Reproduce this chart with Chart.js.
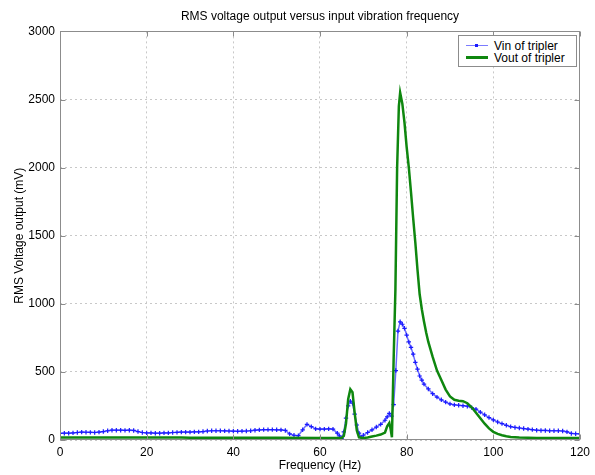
<!DOCTYPE html>
<html><head><meta charset="utf-8">
<script src="https://cdn.jsdelivr.net/npm/chart.js@4.4.1/dist/chart.umd.min.js"></script>
<style>
html,body{margin:0;padding:0;background:#fff;}
#wrap{position:relative;width:595px;height:475px;background:#fff;}
#legend{position:absolute;left:458px;top:35px;width:117px;height:30px;border:1px solid #8c8c8c;background:#fff;font:12px "Liberation Sans",Arial,sans-serif;color:#000;}
.row{position:absolute;left:0;width:116px;height:12px;line-height:12px;}
.txt{position:absolute;left:35px;top:0;white-space:nowrap;}
.ln{position:absolute;left:7px;width:22px;}
.blue{top:5px;height:1px;background:rgba(90,90,255,0.8);}
.dot{position:absolute;left:16px;top:4px;width:3px;height:3px;background:#1a1aff;}
.green{top:5px;height:3px;background:#0f870f;}
</style></head>
<body>
<div id="wrap">
<canvas id="c" width="595" height="475"></canvas>
<div id="legend">
 <div class="row" style="top:4px"><div class="ln blue"></div><div class="dot"></div><div class="txt">Vin of tripler</div></div>
 <div class="row" style="top:16px"><div class="ln green" style="top:4px"></div><div class="txt">Vout of tripler</div></div>
</div>
</div>
<script>
const vinFreq = [0,1,2,3,4,5,6,7,8,9,10,11,12,13,14,15,16,17,18,19,20,21,22,23,24,25,26,27,28,29,30,31,32,33,34,35,36,37,38,39,40,41,42,43,44,45,46,47,48,49,50,51,52,53,54,55,56,57,58,59,60,61,62,63,64,64.5,65,65.5,66,66.5,67,67.5,68,68.5,69,69.5,70,71,72,73,74,75,75.5,76,76.5,77,77.5,78,78.5,79,79.5,80,80.5,81,81.5,82,82.5,83,83.5,84,85,86,87,88,89,90,91,92,93,94,95,96,97,98,99,100,101,102,103,104,105,106,107,108,109,110,111,112,113,114,115,116,117,118,119,120];
const vinMv = [49,50,50,52,55,58,57,56,55,58,62,68,72,72,72,71,72,70,62,55,52,52,50,50,52,52,55,56,58,58,58,60,60,62,66,68,68,68,67,66,65,64,65,66,68,72,74,76,76,76,75,74,70,45,35,32,75,115,98,82,80,80,82,80,50,30,10,60,160,250,285,270,190,110,50,20,35,55,75,95,115,145,170,195,175,260,510,800,868,850,820,770,720,680,630,570,520,470,440,410,375,340,315,295,278,265,258,255,252,248,238,226,205,185,165,148,132,120,108,98,92,88,84,80,76,72,70,70,68,68,68,66,60,48,46,45];
const voutFreq = [0,5,10,20,28,30,40,50,60,64,65,65.5,66,66.5,67,67.5,68,68.5,69,70,71,72,73,74,75,75.5,76,76.3,76.6,77,77.4,77.8,78.2,78.5,79,79.5,80,80.5,81,81.5,82,82.5,83,83.5,84,84.5,85,86,87,88,89,90,91,92,93,94,95,96,97,98,99,100,101,102,103,104,106,110,115,120];
const voutMv = [18,18,18,18,18,16,16,16,15,15,15,30,120,300,372,350,200,70,20,15,18,25,32,40,55,100,125,80,20,600,1100,2000,2450,2550,2470,2330,2150,2000,1820,1630,1450,1250,1070,960,870,790,720,610,510,440,370,320,295,288,285,270,240,200,160,120,85,60,45,35,28,22,18,15,14,14];
const xTickValues = [0,20,40,60,80,100,120];
const yTickValues = [0,500,1000,1500,2000,2500,3000];

const FONT = '"Liberation Sans", Arial, sans-serif';
Chart.defaults.font.family = FONT;

const framePlugin = {
  id: 'frame',
  afterLayout(chart) {
    const ca = chart.chartArea;
    if (chart.titleBlock) { chart.titleBlock.left = ca.left; chart.titleBlock.right = ca.right; }
  },
  afterDatasetsDraw(chart) {
    const {ctx, chartArea: ca, scales} = chart;
    ctx.save();
    ctx.strokeStyle = '#8c8c8c';
    ctx.lineWidth = 1;
    const L = Math.round(ca.left)+0.5, R = Math.round(ca.right)-0.5, T = Math.round(ca.top)+0.5, B = Math.round(ca.bottom)-0.5;
    ctx.strokeRect(L, T, R-L, B-T);
    ctx.beginPath();
    scales.x.ticks.forEach(t => {
      const px = Math.round(scales.x.getPixelForValue(t.value))+0.5;
      ctx.moveTo(px, B); ctx.lineTo(px, B-5);
      ctx.moveTo(px, T); ctx.lineTo(px, T+5);
    });
    scales.y.ticks.forEach(t => {
      const py = Math.round(scales.y.getPixelForValue(t.value))+0.5;
      ctx.moveTo(L, py); ctx.lineTo(L+5, py);
      ctx.moveTo(R, py); ctx.lineTo(R-5, py);
    });
    ctx.stroke();
    ctx.restore();
  }
};

new Chart(document.getElementById('c'), {
  type: 'line',
  data: {
    datasets: [
      {
        label: 'Vin of tripler',
        data: vinFreq.map((f,i)=>({x:f, y:vinMv[i]})),
        borderColor: 'rgba(70,70,255,0.8)',
        borderWidth: 1.5,
        pointStyle: 'cross',
        pointRadius: 2.2,
        pointBorderColor: '#1a1aff',
        pointBorderWidth: 1.2,
        pointBackgroundColor: '#1a1aff',
        tension: 0,
        order: 1
      },
      {
        label: 'Vout of tripler',
        data: voutFreq.map((f,i)=>({x:f, y:voutMv[i]})),
        borderColor: '#0f870f',
        borderWidth: 2.5,
        pointRadius: 0,
        tension: 0,
        order: 0
      }
    ]
  },
  options: {
    responsive: false,
    animation: false,
    layout: { padding: { left: 0, right: 14, top: 0, bottom: 0 } },
    plugins: {
      legend: { display: false },
      tooltip: { enabled: false },
      title: {
        display: true,
        text: 'RMS voltage output versus input vibration frequency',
        color: '#000',
        font: { size: 12, weight: 'normal', family: FONT },
        padding: { top: 9, bottom: 8 }
      }
    },
    scales: {
      x: {
        type: 'linear', min: 0, max: 120,
        afterBuildTicks: s => { s.ticks = xTickValues.map(v => ({value: v})); },
        afterFit: s => { s.height = 35; },
        grid: { color: '#c8c8c8', lineWidth: 1, drawTicks: false },
        border: { display: false, dash: [2, 3] },
        ticks: { color: '#000', padding: 5, maxRotation: 0, font: { size: 12 }, callback: v => String(v) },
        title: { display: true, text: 'Frequency (Hz)', color: '#000', font: { size: 12 }, padding: { top: 0, bottom: 2 } }
      },
      y: {
        type: 'linear', min: 0, max: 3000,
        afterBuildTicks: s => { s.ticks = yTickValues.map(v => ({value: v})); },
        afterFit: s => { s.width = 60; },
        grid: { color: '#c8c8c8', lineWidth: 1, drawTicks: false },
        border: { display: false, dash: [2, 3] },
        ticks: { color: '#000', padding: 5, font: { size: 12 }, callback: v => String(v) },
        title: { display: true, text: 'RMS Voltage output (mV)', color: '#000', font: { size: 12 }, padding: { top: 12, bottom: 0 } }
      }
    }
  },
  plugins: [framePlugin]
});
</script>
</body></html>
